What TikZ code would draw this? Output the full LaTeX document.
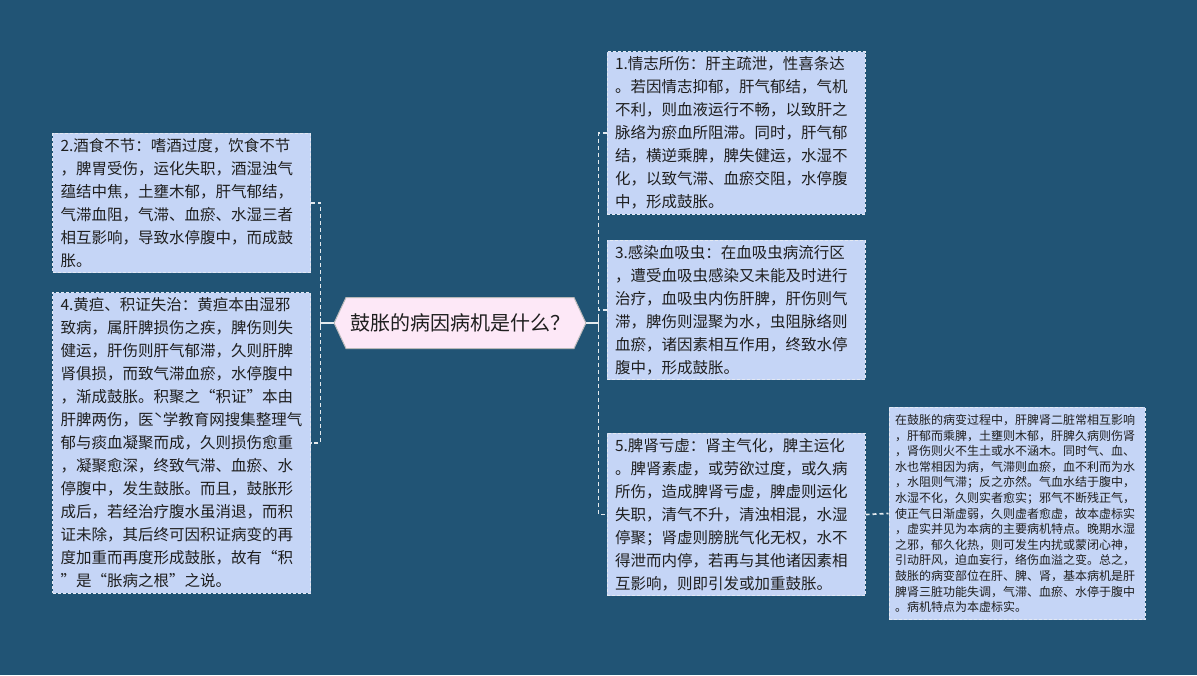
\documentclass[tikz,border=0pt]{standalone}
\usepackage{fontspec}
\setmainfont{Noto Sans CJK SC}
\usetikzlibrary{shapes.symbols}
\definecolor{bgblue}{RGB}{33,84,117}
\definecolor{boxblue}{RGB}{197,213,246}
\definecolor{hubpink}{RGB}{253,232,247}
\definecolor{edgegray}{RGB}{228,233,242}
\tikzset{
  cause/.style={draw=edgegray, line width=1pt, dash pattern=on 3pt off 2pt, fill=boxblue, text=black!88,
    align=left, text width=242pt, inner xsep=8pt, inner ysep=5pt,
    font=\fontsize{15.5}{23}\selectfont},
  note/.style={cause, text width=244pt, inner xsep=6pt, inner ysep=7pt,
    font=\fontsize{12}{15.6}\selectfont},
  hub/.style={shape=signal, signal to=west and east, signal pointer angle=130,
    draw=gray!55, line width=1pt, fill=hubpink, text=black!88, minimum height=51pt, inner xsep=4pt,
    font=\fontsize{20}{24}\selectfont},
  link/.style={draw=white!88!bgblue, line width=1.7pt},
  twig/.style={link, dash pattern=on 4pt off 3pt}
}

\begin{document}
\begin{tikzpicture}[x=1pt,y=-1pt]
	\fill[bgblue] (0,0) rectangle (1197,675);
	\useasboundingbox (0,0) rectangle (1197,675);

	\node[hub] (hub) at (460,323) {鼓胀的病因病机是什么？};

	\node[cause] (wine) at (181.5,203) {2.酒食不节：嗜酒过度，饮食不节\\，脾胃受伤，运化失职，酒湿浊气\\蕴结中焦，土壅木郁，肝气郁结，\\气滞血阻，气滞、血瘀、水湿三者\\相互影响，导致水停腹中，而成鼓\\胀。};
	\node[cause] (jaundice) at (181.5,443) {4.黄疸、积证失治：黄疸本由湿邪\\致病，属肝脾损伤之疾，脾伤则失\\健运，肝伤则肝气郁滞，久则肝脾\\肾俱损，而致气滞血瘀，水停腹中\\，渐成鼓胀。积聚之“积证”本由\\肝脾两伤，医ˋ学教育网搜集整理气\\郁与痰血凝聚而成，久则损伤愈重\\，凝聚愈深，终致气滞、血瘀、水\\停腹中，发生鼓胀。而且，鼓胀形\\成后，若经治疗腹水虽消退，而积\\证未除，其后终可因积证病变的再\\度加重而再度形成鼓胀，故有“积\\”是“胀病之根”之说。};

	\node[cause] (mood) at (736,133) {1.情志所伤：肝主疏泄，性喜条达\\。若因情志抑郁，肝气郁结，气机\\不利，则血液运行不畅，以致肝之\\脉络为瘀血所阻滞。同时，肝气郁\\结，横逆乘脾，脾失健运，水湿不\\化，以致气滞、血瘀交阻，水停腹\\中，形成鼓胀。};
	\node[cause] (fluke) at (736,310) {3.感染血吸虫：在血吸虫病流行区\\，遭受血吸虫感染又未能及时进行\\治疗，血吸虫内伤肝脾，肝伤则气\\滞，脾伤则湿聚为水，虫阻脉络则\\血瘀，诸因素相互作用，终致水停\\腹中，形成鼓胀。};
	\node[cause] (kidney) at (736,514.5) {5.脾肾亏虚：肾主气化，脾主运化\\。脾肾素虚，或劳欲过度，或久病\\所伤，造成脾肾亏虚，脾虚则运化\\失职，清气不升，清浊相混，水湿\\停聚；肾虚则膀胱气化无权，水不\\得泄而内停，若再与其他诸因素相\\互影响，则即引发或加重鼓胀。};

	\node[note] (summary) at (1017,513.5) {在鼓胀的病变过程中，肝脾肾二脏常相互影响\\，肝郁而乘脾，土壅则木郁，肝脾久病则伤肾\\，肾伤则火不生土或水不涵木。同时气、血、\\水也常相因为病，气滞则血瘀，血不利而为水\\，水阻则气滞；反之亦然。气血水结于腹中，\\水湿不化，久则实者愈实；邪气不断残正气，\\使正气日渐虚弱，久则虚者愈虚，故本虚标实\\，虚实并见为本病的主要病机特点。晚期水湿\\之邪，郁久化热，则可发生内扰或蒙闭心神，\\引动肝风，迫血妄行，络伤血溢之变。总之，\\鼓胀的病变部位在肝、脾、肾，基本病机是肝\\脾肾三脏功能失调，气滞、血瘀、水停于腹中\\。病机特点为本虚标实。};

	\draw[link] (hub.west) -- ++(-13,0) coordinate (lfork);
	\draw[link] (lfork) ++(0,-5) -- ++(0,10);
	\draw[twig] (wine.east) -| (lfork) |- (jaundice.east);

	\draw[link] (hub.east) -- ++(12,0) coordinate (rfork);
	\draw[link] (rfork) ++(0,-5) -- ++(0,10);
	\draw[twig] (mood.west) -| (rfork) |- (kidney.west);
	\draw[twig] (fluke.west) -- (fluke.west -| rfork);
	\draw[twig] (kidney.east) -- (summary.west);
\end{tikzpicture}
\end{document}
